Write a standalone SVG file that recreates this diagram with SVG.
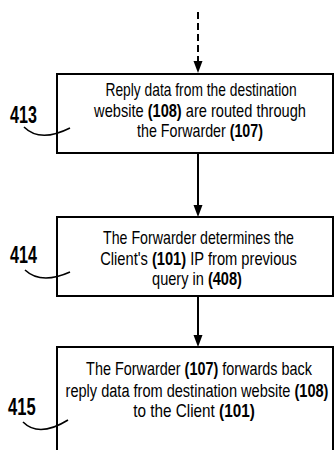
<svg xmlns="http://www.w3.org/2000/svg" width="335" height="450" viewBox="0 0 335 450">
<style>
.box{fill:#fff;stroke:#000;stroke-width:2}
.t{font-family:"Liberation Sans",Arial,sans-serif;font-size:18px;fill:#000;text-anchor:middle}
.b{font-weight:bold}
.lbl{font-family:"Liberation Sans",Arial,sans-serif;font-size:23px;font-weight:bold;fill:#000}
.lead{fill:none;stroke:#000;stroke-width:1.6}
.conn{fill:none;stroke:#000;stroke-width:2}
.ah{fill:#000}
</style>
<g id="connectors">
<line class="conn" x1="198" y1="12" x2="198" y2="62" stroke-dasharray="7,4"/>
<path class="ah" d="M193.5,61 L202.5,61 L198,73 Z"/>
<line class="conn" x1="198" y1="153" x2="198" y2="206"/>
<path class="ah" d="M193.5,205 L202.5,205 L198,217 Z"/>
<line class="conn" x1="198" y1="296" x2="198" y2="336"/>
<path class="ah" d="M193.5,335 L202.5,335 L198,347 Z"/>
</g>
<g id="n413">
<rect class="box" x="57" y="74" width="276" height="79"/>
<text class="t" transform="translate(201,96) scale(0.768,1)">Reply data from the destination</text>
<text class="t" transform="translate(200,117) scale(0.812,1)">website <tspan class="b">(108)</tspan> are routed through</text>
<text class="t" transform="translate(200,137) scale(0.792,1)">the Forwarder <tspan class="b">(107)</tspan></text>
<text class="lbl" transform="translate(10,123) scale(0.7,1)">413</text>
<path class="lead" d="M24,127 Q40,143 70,128"/>
</g>
<g id="n414">
<rect class="box" x="57" y="217" width="276" height="79"/>
<text class="t" transform="translate(198.5,244) scale(0.789,1)">The Forwarder determines the</text>
<text class="t" transform="translate(198.5,265) scale(0.816,1)">Client's <tspan class="b">(101)</tspan> IP from previous</text>
<text class="t" transform="translate(197,285) scale(0.81,1)">query in <tspan class="b">(408)</tspan></text>
<text class="lbl" transform="translate(10,263) scale(0.7,1)">414</text>
<path class="lead" d="M25,270 Q41,285 70,272"/>
</g>
<g id="n415">
<rect class="box" x="57" y="347" width="276" height="120"/>
<text class="t" transform="translate(199,375) scale(0.801,1)">The Forwarder <tspan class="b">(107)</tspan> forwards back</text>
<text class="t" transform="translate(197,397) scale(0.809,1)">reply data from destination website <tspan class="b">(108)</tspan></text>
<text class="t" transform="translate(194,417) scale(0.85,1)">to the Client <tspan class="b">(101)</tspan></text>
<text class="lbl" transform="translate(8,415) scale(0.72,1)">415</text>
<path class="lead" d="M23,422 Q39,438 68,420"/>
</g>
</svg>
